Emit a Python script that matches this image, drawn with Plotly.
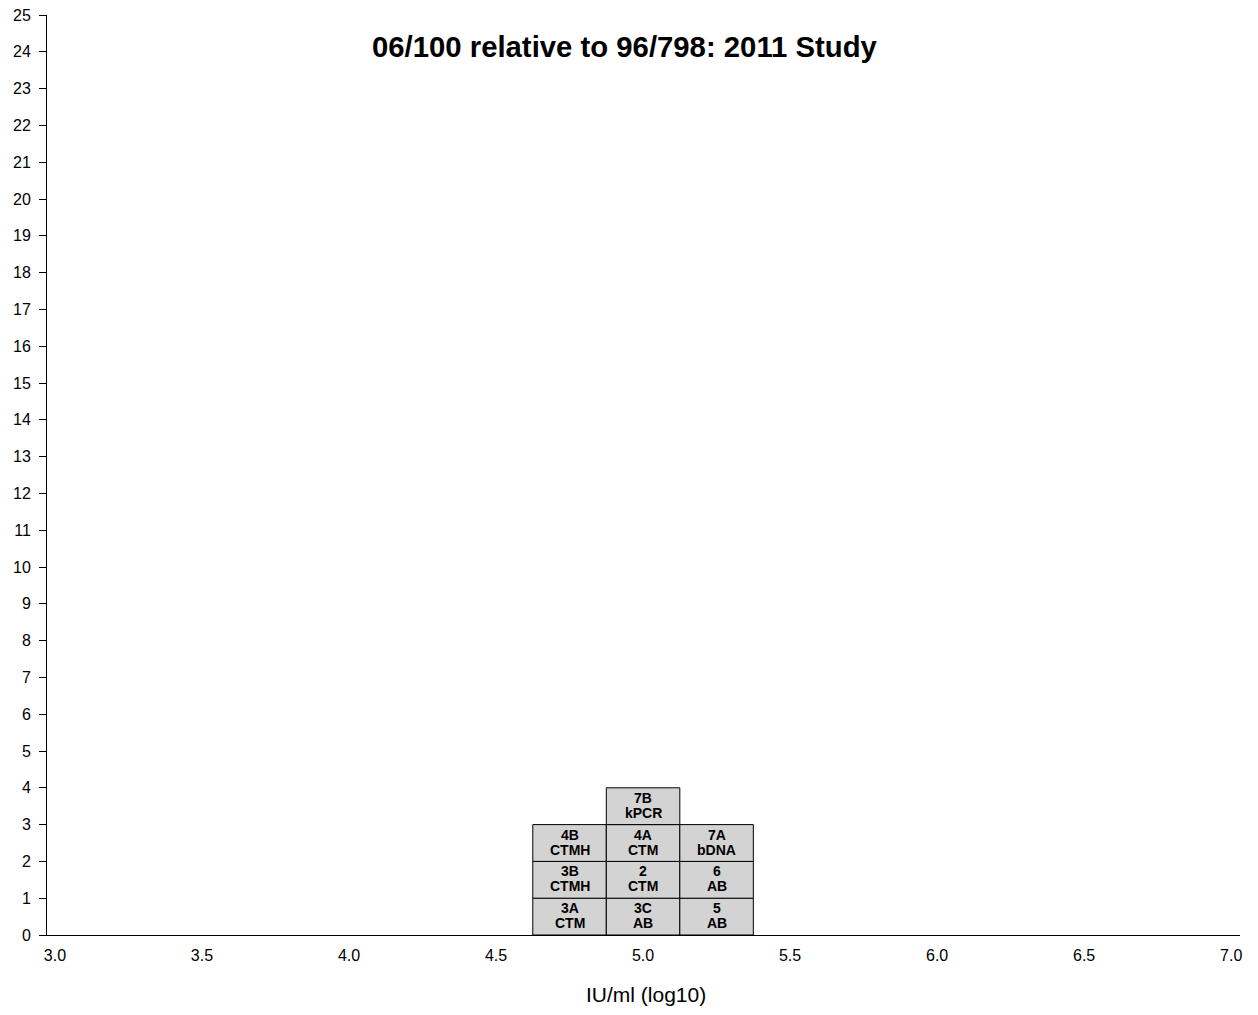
import plotly.graph_objects as go

# Laboratory results (log10 IU/ml), grouped into 0.25-wide bins
lab_codes = ["3A", "3B", "4B", "3C", "2", "4A", "7B", "5", "6", "7A"]
methods = ["CTM", "CTMH", "CTMH", "AB", "CTM", "CTM", "kPCR", "AB", "AB", "bDNA"]
log_values = [4.75, 4.75, 4.75, 5.0, 5.0, 5.0, 5.0, 5.25, 5.25, 5.25]

bin_width = 0.25
x_ticks = [3.0, 3.5, 4.0, 4.5, 5.0, 5.5, 6.0, 6.5, 7.0]
y_ticks = list(range(0, 26))

FONT = "Liberation Sans, Arial, Helvetica, sans-serif"

# stack each result on top of the earlier ones in its bin
bases = []
counts = {}
for v in log_values:
    n = counts.get(v, 0)
    bases.append(n)
    counts[v] = n + 1

fig = go.Figure()
fig.add_trace(go.Bar(
    x=log_values,
    y=[1] * len(log_values),
    base=bases,
    width=bin_width,
    marker=dict(color="#d3d3d3", line=dict(color="black", width=1)),
    hoverinfo="skip",
))

# two-line box labels: lab code above, assay method below
annotations = []
for v, b, code, meth in zip(log_values, bases, lab_codes, methods):
    for txt, shift in ((code, 8.5), (meth, -6.5)):
        annotations.append(dict(
            x=v, y=b + 0.5, xref="x", yref="y", yshift=shift,
            text=f"<b>{txt}</b>", showarrow=False,
            xanchor="center", yanchor="middle",
            font=dict(size=14, color="black", family=FONT),
        ))

annotations.append(dict(
    text="<b>06/100 relative to 96/798: 2011 Study</b>",
    xref="paper", yref="paper", x=0.4845, y=0.966,
    xanchor="center", yanchor="middle", showarrow=False,
    font=dict(size=29.3, color="black", family=FONT),
))
annotations.append(dict(
    text="IU/ml (log10)",
    xref="paper", yref="paper", x=0.502, y=-0.065,
    xanchor="center", yanchor="middle", showarrow=False,
    font=dict(size=21, color="black", family=FONT),
))

fig.update_layout(
    width=1258, height=1015,
    margin=dict(l=47, r=18, t=15, b=80),
    paper_bgcolor="white", plot_bgcolor="white",
    showlegend=False,
    font=dict(family=FONT, color="black"),
    annotations=annotations,
)
fig.update_xaxes(
    range=[2.973, 7.03],
    tickvals=x_ticks, ticktext=[f"{t:.1f}" for t in x_ticks],
    ticks="", showgrid=False, zeroline=False,
    showline=True, linecolor="black", linewidth=1,
    tickfont=dict(size=16), ticklabelstandoff=6,
    automargin=False,
)
fig.update_yaxes(
    range=[0, 25],
    tickvals=y_ticks,
    ticks="outside", ticklen=7, tickcolor="black",
    showgrid=False, zeroline=False,
    showline=True, linecolor="black", linewidth=1,
    tickfont=dict(size=16), ticklabelstandoff=5,
    automargin=False,
)

fig.write_html("out.html")
